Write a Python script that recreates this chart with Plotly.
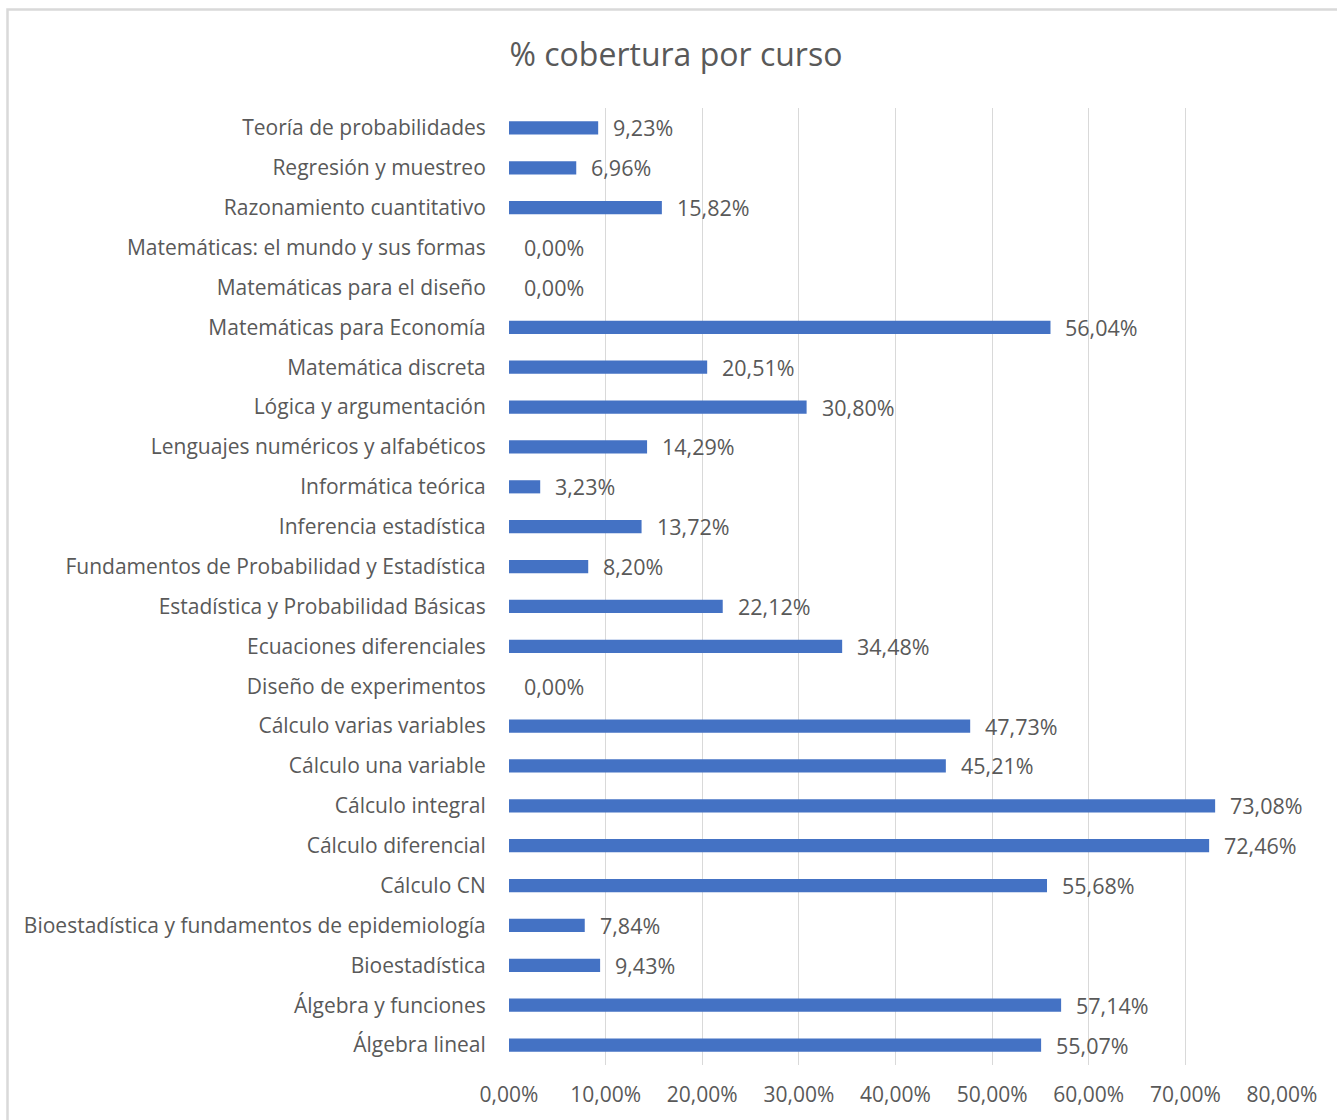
import plotly.graph_objects as go

cursos = [
    "Álgebra lineal", "Álgebra y funciones", "Bioestadística",
    "Bioestadística y fundamentos de epidemiología", "Cálculo CN",
    "Cálculo diferencial", "Cálculo integral", "Cálculo una variable",
    "Cálculo varias variables", "Diseño de experimentos",
    "Ecuaciones diferenciales", "Estadística y Probabilidad Básicas",
    "Fundamentos de Probabilidad y Estadística", "Inferencia estadística",
    "Informática teórica", "Lenguajes numéricos y alfabéticos",
    "Lógica y argumentación", "Matemática discreta",
    "Matemáticas para Economía", "Matemáticas para el diseño",
    "Matemáticas: el mundo y sus formas", "Razonamiento cuantitativo",
    "Regresión y muestreo", "Teoría de probabilidades",
]
cobertura = [
    0.5507, 0.5714, 0.0943, 0.0784, 0.5568, 0.7246, 0.7308, 0.4521,
    0.4773, 0.0, 0.3448, 0.2212, 0.0820, 0.1372, 0.0323, 0.1429,
    0.3080, 0.2051, 0.5604, 0.0, 0.0, 0.1582, 0.0696, 0.0923,
]
ticks = [0, 0.1, 0.2, 0.3, 0.4, 0.5, 0.6, 0.7, 0.8]

FONT = "'Open Sans', Lato, sans-serif"
GRAY = "#595959"

fig = go.Figure(go.Bar(
    x=cobertura, y=cursos, orientation="h",
    marker=dict(color="#4472C4", line=dict(width=0)),
    width=0.33,
))

for c, v in zip(cursos, cobertura):
    fig.add_annotation(
        x=v, y=c, xref="x", yref="y",
        text=f"{v*100:.2f}%".replace(".", ","),
        showarrow=False, xanchor="left", yanchor="middle", xshift=13,
        font=dict(family=FONT, size=21.5, color=GRAY),
    )

fig.update_layout(
    width=1337, height=1120,
    margin=dict(l=509, r=55, t=108, b=55),
    paper_bgcolor="white", plot_bgcolor="white",
    separators=",.",
    showlegend=False,
    title=dict(
        text="% cobertura por curso", x=0.5056, xref="container",
        y=1 - 55 / 1120, yref="container", xanchor="center", yanchor="middle",
        font=dict(family=FONT, size=32, color=GRAY),
    ),
    font=dict(family=FONT, size=21, color=GRAY),
    bargap=0.67,
)
fig.update_xaxes(
    range=[0, 0.8], tickvals=ticks, tickformat=".2%",
    showgrid=True, gridcolor="#D9D9D9", gridwidth=1.3,
    zeroline=False, showline=False,
    ticks="outside", ticklen=11, tickcolor="rgba(0,0,0,0)",
    tickfont=dict(family=FONT, size=21, color=GRAY),
)
fig.update_yaxes(
    type="category", showgrid=False, zeroline=False, showline=False,
    ticks="outside", ticklen=18, tickcolor="rgba(0,0,0,0)",
    tickfont=dict(family=FONT, size=21, color=GRAY),
)

# chart frame (top and left edges visible)
fig.add_shape(
    type="rect", xref="paper", yref="paper",
    x0=(7.5 - 509) / 773, x1=(1345 - 509) / 773,
    y0=(1065 - 1130) / 957, y1=(1065 - 9.5) / 957,
    line=dict(color="#D9D9D9", width=2.5), fillcolor="rgba(0,0,0,0)",
    layer="below",
)

fig.write_html("out.html")
